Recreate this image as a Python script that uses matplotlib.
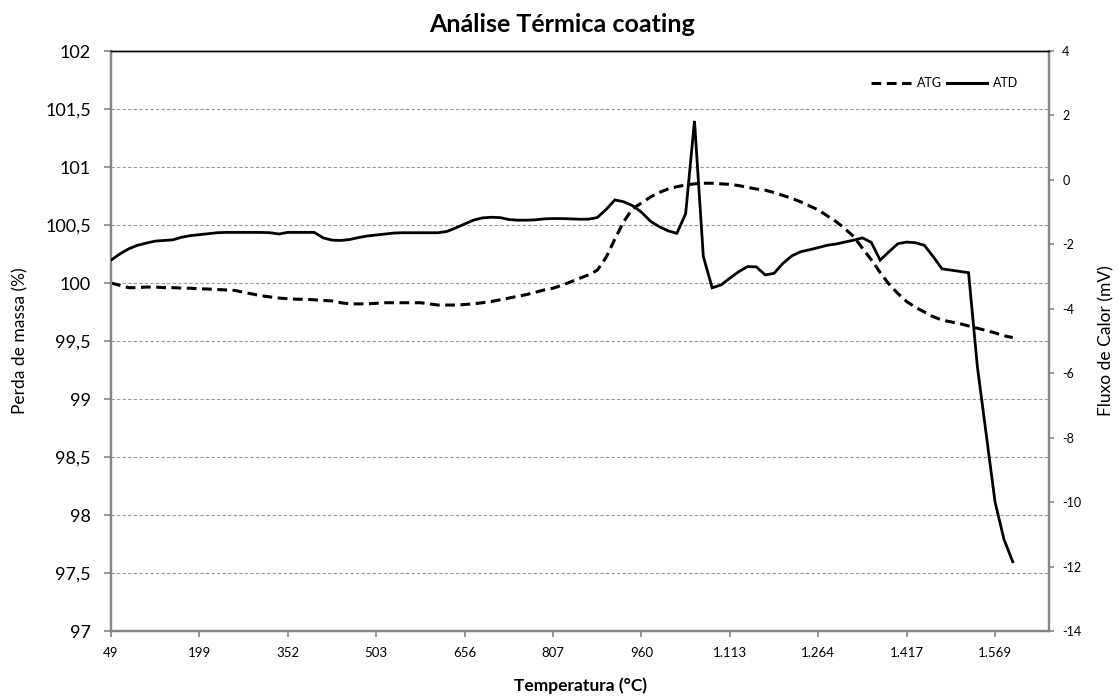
import matplotlib
matplotlib.use("Agg")
import matplotlib.pyplot as plt
from matplotlib.lines import Line2D

plt.rcParams['font.family'] = ['Lato', 'DejaVu Sans']

# ---- data (category index = measurement row, labels every 10 rows) ----
tick_labels = ["49", "199", "352", "503", "656", "807", "960",
               "1.113", "1.264", "1.417", "1.569"]

atg = [100.00, 99.98, 99.96, 99.96, 99.965, 99.965, 99.96, 99.96, 99.956, 99.955,
       99.95, 99.948, 99.944, 99.94, 99.936, 99.92, 99.905, 99.89, 99.88, 99.87,
       99.865, 99.86, 99.86, 99.855, 99.85, 99.845, 99.83, 99.82, 99.82, 99.82,
       99.825, 99.83, 99.83, 99.83, 99.83, 99.83, 99.82, 99.81, 99.81, 99.81,
       99.815, 99.82, 99.83, 99.84, 99.855, 99.87, 99.885, 99.90, 99.92, 99.94,
       99.955, 99.98, 100.01, 100.04, 100.07, 100.11, 100.22, 100.38, 100.53, 100.64,
       100.69, 100.74, 100.78, 100.81, 100.83, 100.845, 100.855, 100.86, 100.86, 100.855,
       100.85, 100.84, 100.825, 100.81, 100.80, 100.78, 100.755, 100.73, 100.70, 100.665,
       100.63, 100.58, 100.53, 100.47, 100.40, 100.30, 100.20, 100.09, 99.99, 99.91,
       99.84, 99.79, 99.75, 99.71, 99.68, 99.665, 99.65, 99.63, 99.61, 99.59,
       99.57, 99.545, 99.53]

atd = [-2.49, -2.30, -2.14, -2.03, -1.96, -1.90, -1.88, -1.86, -1.78, -1.73,
       -1.70, -1.67, -1.64, -1.63, -1.63, -1.63, -1.63, -1.63, -1.64, -1.68,
       -1.63, -1.63, -1.63, -1.63, -1.80, -1.87, -1.88, -1.85, -1.79, -1.74,
       -1.71, -1.68, -1.65, -1.64, -1.64, -1.64, -1.64, -1.64, -1.60, -1.49,
       -1.37, -1.25, -1.18, -1.16, -1.17, -1.23, -1.25, -1.25, -1.24, -1.21,
       -1.20, -1.20, -1.21, -1.22, -1.22, -1.17, -0.92, -0.62, -0.68, -0.80,
       -1.00, -1.28, -1.45, -1.58, -1.66, -1.05, 1.83, -2.38, -3.35, -3.26,
       -3.05, -2.85, -2.69, -2.70, -2.95, -2.90, -2.59, -2.36, -2.23, -2.17,
       -2.10, -2.03, -1.99, -1.93, -1.87, -1.80, -1.94, -2.49, -2.23, -1.98,
       -1.93, -1.95, -2.03, -2.38, -2.76, -2.80, -2.84, -2.88, -5.80, -7.90,
       -10.00, -11.15, -11.85]

n_categories = 107
label_step = 10

left_ticks = [97, 97.5, 98, 98.5, 99, 99.5, 100, 100.5, 101, 101.5, 102]
right_ticks = [-14, -12, -10, -8, -6, -4, -2, 0, 2, 4]

# ---- figure ----
W, H = 1120, 697
fig = plt.figure(figsize=(W / 100, H / 100), dpi=100)
ax = fig.add_axes([111 / W, 1 - 631 / H, (1049 - 111) / W, (631 - 51) / H])
ax2 = ax.twinx()

idx = list(range(len(atg)))
ax.plot(idx, atg, color='black', lw=2.2, linestyle=(0, (3.2, 1.8)),
        solid_capstyle='butt', dash_capstyle='butt', zorder=3)
ax2.plot(list(range(len(atd))), atd, color='black', lw=2.0,
         solid_joinstyle='miter', zorder=3)

ax.set_xlim(0, n_categories - 1 + 0.1)
ax.set_ylim(97, 102)
ax2.set_ylim(-14, 4)

ax.set_xticks(list(range(0, label_step * len(tick_labels), label_step)))
ax.set_xticklabels(tick_labels)
ax.set_yticks(left_ticks)
ax.set_yticklabels([("%g" % v).replace('.', ',') for v in left_ticks])
ax2.set_yticks(right_ticks)
ax2.set_yticklabels([str(v) for v in right_ticks])

for v in left_ticks[1:-1]:
    ax.axhline(v, color='#9a9a9a', lw=0.8, linestyle=(0, (3, 2)), zorder=1)

grey = '#868686'
for a in (ax, ax2):
    for s in ('left', 'right', 'bottom'):
        a.spines[s].set_color(grey)
        a.spines[s].set_linewidth(1.6)
    a.spines['top'].set_color('black')
    a.spines['top'].set_linewidth(1.0)

ax.tick_params(axis='y', direction='out', length=5, width=1.2, color=grey,
               labelsize=13, pad=9.5)
ax.tick_params(axis='x', direction='out', length=4.5, width=1.2, color=grey,
               labelsize=9.5, pad=7)
ax2.tick_params(axis='y', direction='out', length=3.5, width=1.2, color=grey,
                labelsize=9, pad=6)

ax.set_ylabel('Perda de massa (%)', fontsize=12.5, labelpad=12)
ax2.set_ylabel('Fluxo de Calor (mV)', fontsize=12.5, labelpad=12)
fig.text(580 / W, 1 - 686 / H, 'Temperatura (°C)', ha='center', va='center',
         fontsize=12.5, fontweight='bold')
fig.text(562 / W, 1 - 25 / H, 'Análise Térmica coating', ha='center', va='center',
         fontsize=18, fontweight='bold')

handles = [Line2D([], [], color='black', lw=2.2, linestyle=(0, (3.2, 1.8))),
           Line2D([], [], color='black', lw=2.2)]
leg = ax2.legend(handles, ['ATG', 'ATD'], loc='center right', ncol=2,
                 bbox_to_anchor=(1018 / W, 1 - 83 / H),
                 bbox_transform=fig.transFigure, frameon=False, fontsize=9,
                 handlelength=3.2, handletextpad=0.45, columnspacing=0.45,
                 borderpad=0, borderaxespad=0)

fig.savefig('out.png', dpi=100)
